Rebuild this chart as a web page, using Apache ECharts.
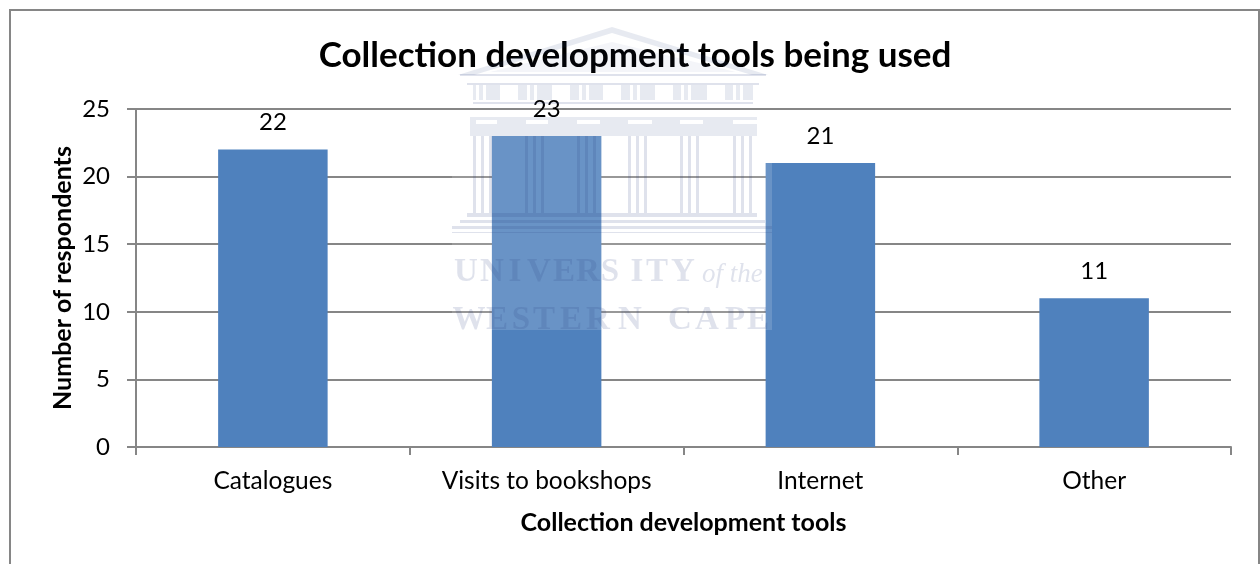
<!DOCTYPE html>
<html><head><meta charset="utf-8">
<style>html,body{margin:0;padding:0;background:#fff}#c{width:1260px;height:564px}</style>
<script src="https://cdn.jsdelivr.net/npm/echarts@6/dist/echarts.min.js"></script>
</head><body><div id="c"></div>
<script>
const categories = ['Catalogues','Visits to bookshops','Internet','Other'];
const respondents = [22,23,21,11];
const titleText = 'Collection development tools being used';
const xName = 'Collection development tools';
const yName = 'Number of respondents';
const F = 'Lato, Carlito, "Open Sans", sans-serif';
const INK = 'rgba(40,60,130,0.15)';
const INK2 = 'rgba(40,60,130,0.11)';
function rect(x,y,w,h,fill){return {type:'rect',silent:true,z:50,shape:{x,y,width:w,height:h},style:{fill:fill||INK}};}
const wm = [];
// pale wash of the watermark picture
wm.push(rect(452,136,320,194,'rgba(255,255,255,0.15)'));
// pediment
wm.push({type:'polygon',silent:true,z:50,shape:{points:[[458,75],[612,27],[768,75],[752,75],[612,33],[474,75]]},style:{fill:INK2}});
wm.push({type:'polygon',silent:true,z:50,shape:{points:[[490,72],[612,42],[736,72]]},style:{fill:'rgba(40,60,130,0.05)'}});
wm.push(rect(460,74,306,2));
wm.push(rect(467,83,292,2));
// frieze with windows
const whites=[];
[476,527,579,630,681,733].forEach(g=>{whites.push([g,g+3]);whites.push([g+7,g+10]);});
[500,552,603,655,707].forEach(w=>whites.push([w,w+18]));
whites.sort((a,b)=>a[0]-b[0]);
let cx=473;
whites.forEach(w=>{wm.push(rect(cx,85,w[0]-cx,15,INK2));cx=w[1];});
wm.push(rect(cx,85,753-cx,15,INK2));
wm.push(rect(473,102,280,2));
// architrave band and capitals
wm.push(rect(470,117,287,3,INK2));
[[470,476],[497,526],[548,577],[600,628],[652,680],[703,733]].forEach(a=>wm.push(rect(a[0],120,a[1]-a[0],4,INK2)));
wm.push(rect(470,124,287,12,INK2));
// columns
[473,525,577,628,680,733].forEach(g=>{
  [0,8,16].forEach(d=>wm.push(rect(g+d,136,3,77)));
});
// steps
wm.push(rect(467,213,290,4));
wm.push(rect(460,220,305,3));
wm.push(rect(452,226,320,3));
wm.push(rect(452,232,320,1));
// lettering of the watermark, one glyph at a time because it is widely spaced
function letters(arr,y){arr.forEach(a=>wm.push({type:'text',silent:true,z:50,style:{text:a[0],x:a[1],y,fill:INK,font:'bold 33px "Liberation Serif", serif',textAlign:'center',textVerticalAlign:'middle'}}));}
letters([['U',466],['N',492],['I',515],['V',539],['E',564],['R',588],['S',610],['I',637],['T',657],['Y',683]],272);
letters([['W',469],['E',497],['S',521],['T',544],['E',571],['R',598],['N',630],['C',680],['A',707],['P',735],['E',758]],320);
wm.push({type:'text',silent:true,z:50,style:{text:'of the',x:702,y:275,fill:INK,font:'italic 27px "Liberation Serif", serif',textVerticalAlign:'middle'}});
// outer frame, open at the bottom of the page
wm.push({type:'rect',silent:true,z:1,shape:{x:10,y:10,width:1249,height:570},style:{fill:'none',stroke:'#868686',lineWidth:2}});

const chart = echarts.init(document.getElementById('c'),null,{renderer:'canvas'});
chart.setOption({
  animation:false,
  backgroundColor:'#fff',
  title:{text:titleText,left:630,top:33,textAlign:'center',textStyle:{fontFamily:F,fontSize:35,fontWeight:'bold',color:'#000'}},
  grid:{left:136,right:29,top:109,bottom:117,containLabel:false},
  xAxis:{type:'category',data:categories,name:xName,nameLocation:'middle',nameGap:63,nameMoveOverlap:false,
    nameTextStyle:{fontFamily:F,fontSize:25,fontWeight:'bold',color:'#000'},
    axisLine:{show:true,lineStyle:{color:'#868686',width:2}},
    axisTick:{show:true,length:8,alignWithLabel:false,lineStyle:{color:'#868686',width:2}},
    axisLabel:{fontFamily:F,fontSize:24.5,color:'#000',margin:22},splitLine:{show:false}},
  yAxis:{type:'value',min:0,max:25,interval:5,name:yName,nameLocation:'middle',nameGap:61,nameMoveOverlap:false,
    nameTextStyle:{fontFamily:F,fontSize:25,fontWeight:'bold',color:'#000'},
    axisLine:{show:true,lineStyle:{color:'#868686',width:2}},
    axisTick:{show:true,length:9,lineStyle:{color:'#868686',width:2}},
    axisLabel:{fontFamily:F,fontSize:24,color:'#000',margin:26},
    splitLine:{show:true,lineStyle:{color:'#868686',width:2}}},
  series:[{type:'bar',data:respondents,barWidth:'40%',itemStyle:{color:'#4f81bd'},
    label:{show:true,position:'top',distance:15,fontFamily:F,fontSize:24,color:'#000'}}],
  graphic:wm
});
</script></body></html>
